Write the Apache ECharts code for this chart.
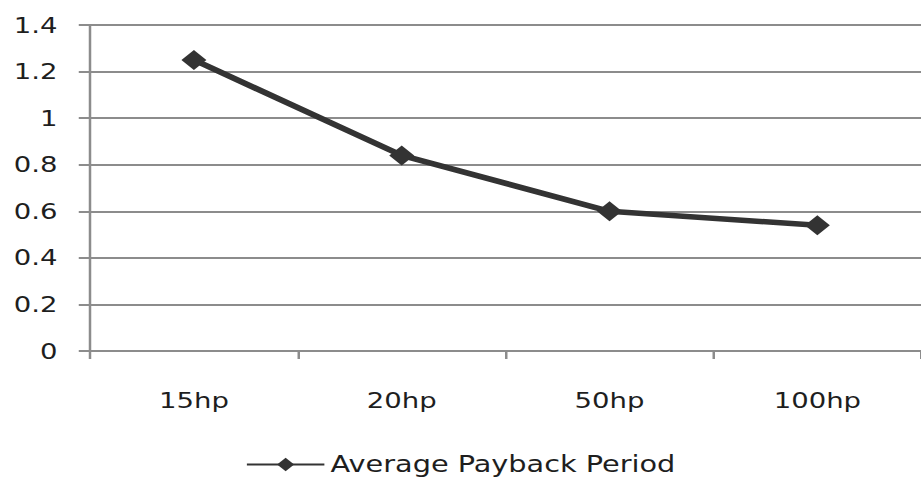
<!DOCTYPE html>
<html>
<head>
<meta charset="utf-8">
<script src="https://cdn.jsdelivr.net/npm/echarts@6/dist/echarts.min.js"></script>
<style>
  html, body { margin: 0; padding: 0; background: #fff; overflow: hidden; }
  /* The chart is laid out on a narrower canvas and widened, which gives
     the broad, stretched lettering and diamonds of this figure. */
  #chart {
    width: 736.8px; height: 479px;
    transform: scaleX(1.25);
    transform-origin: 0 0;
  }
</style>
</head>
<body>
<div id="chart"></div>
<script>
// Motor sizes and their average payback period
const categories = ['15hp', '20hp', '50hp', '100hp'];
const paybackValues = [1.25, 0.84, 0.6, 0.54];
const seriesName = 'Average Payback Period';

const chart = echarts.init(document.getElementById('chart'), null, { renderer: 'svg' });
const font = 'DejaVu Sans';
const textColor = '#1e1e1e';
const gridColor = '#8c8c8c';

chart.setOption({
  animation: false,
  backgroundColor: '#ffffff',
  grid: { left: 72, right: 0, top: 25, bottom: 128, containLabel: false },
  xAxis: {
    type: 'category',
    data: categories,
    boundaryGap: true,
    axisLine: { lineStyle: { color: gridColor, width: 2 } },
    axisTick: { show: true, length: 8, lineStyle: { color: gridColor, width: 2 } },
    axisLabel: { color: textColor, fontFamily: font, fontSize: 22, margin: 38 }
  },
  yAxis: {
    type: 'value',
    min: 0, max: 1.4, interval: 0.2,
    axisLine: { show: true, lineStyle: { color: gridColor, width: 2 } },
    axisTick: { show: true, length: 9, lineStyle: { color: gridColor, width: 2 } },
    axisLabel: {
      color: textColor, fontFamily: font, fontSize: 22, margin: 26,
      formatter: v => String(Math.round(v * 10) / 10)
    },
    splitLine: { show: true, lineStyle: { color: gridColor, width: 2 } }
  },
  legend: {
    top: 448,
    left: 'center',
    itemWidth: 62,
    itemHeight: 17,
    itemGap: 4,
    textStyle: { color: textColor, fontFamily: font, fontSize: 23, padding: [0, 0, 0, 0] },
    data: [seriesName]
  },
  series: [{
    name: seriesName,
    type: 'line',
    data: paybackValues,
    symbol: 'diamond',
    symbolSize: 20,
    lineStyle: { color: '#333333', width: 5.5 },
    itemStyle: { color: '#333333' }
  }]
});
</script>
</body>
</html>
